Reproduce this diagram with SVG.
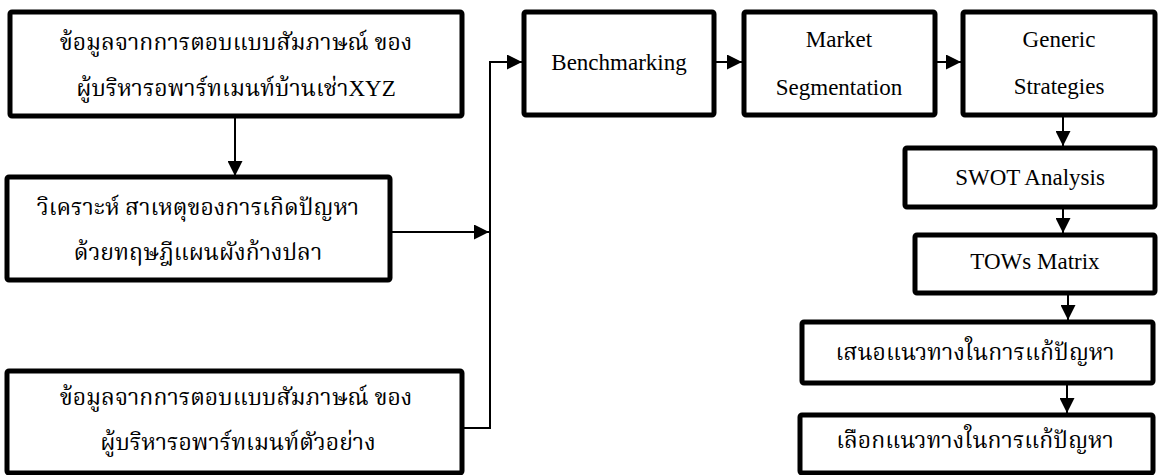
<svg xmlns="http://www.w3.org/2000/svg" width="1165" height="475" viewBox="0 0 1165 475">
  <style>
    .box { fill: #ffffff; stroke: #000000; stroke-width: 5; }
    .t { font-family: "Liberation Serif", "Noto Serif Thai", "Noto Sans Thai", serif; font-size: 23px; fill: #000000; text-anchor: middle; }
    .c { fill: none; stroke: #000000; stroke-width: 2; }
  </style>
  <defs>
    <marker id="ah" markerUnits="userSpaceOnUse" markerWidth="15" markerHeight="15" refX="15" refY="7.5" orient="auto">
      <path d="M0,0 L15,7.5 L0,15 Z" fill="#000000"/>
    </marker>
  </defs>
  <rect width="1165" height="475" fill="#ffffff"/>

  <g id="connectors">
    <path class="c" d="M235,116 L235,176" marker-end="url(#ah)"/>
    <path class="c" d="M390,232 L489,232" marker-end="url(#ah)"/>
    <path class="c" d="M462,428 L490,428 L490,62 L522,62" marker-end="url(#ah)"/>
    <path class="c" d="M714,62 L742,62" marker-end="url(#ah)"/>
    <path class="c" d="M935,62 L961,62" marker-end="url(#ah)"/>
    <path class="c" d="M1063,115 L1063,146" marker-end="url(#ah)"/>
    <path class="c" d="M1063,207 L1063,233" marker-end="url(#ah)"/>
    <path class="c" d="M1068,293 L1068,320" marker-end="url(#ah)"/>
    <path class="c" d="M1067,383 L1067,413" marker-end="url(#ah)"/>
  </g>

  <g id="node-interview-xyz">
    <rect class="box" x="10" y="12" width="452" height="104" rx="2"/>
    <text class="t" x="236" y="50">ข้อมูลจากการตอบแบบสัมภาษณ์ ของ</text>
    <text class="t" x="236" y="96">ผู้บริหารอพาร์ทเมนท์บ้านเช่าXYZ</text>
  </g>

  <g id="node-fishbone">
    <rect class="box" x="7" y="177" width="383" height="103" rx="2"/>
    <text class="t" x="198" y="215">วิเคราะห์ สาเหตุของการเกิดปัญหา</text>
    <text class="t" x="198" y="260">ด้วยทฤษฎีแผนผังก้างปลา</text>
  </g>

  <g id="node-interview-sample">
    <rect class="box" x="7" y="371" width="455" height="102" rx="2"/>
    <text class="t" x="236" y="405">ข้อมูลจากการตอบแบบสัมภาษณ์ ของ</text>
    <text class="t" x="238" y="450">ผู้บริหารอพาร์ทเมนท์ตัวอย่าง</text>
  </g>

  <g id="node-benchmarking">
    <rect class="box" x="524" y="12" width="190" height="103" rx="2"/>
    <text class="t" x="619" y="70">Benchmarking</text>
  </g>

  <g id="node-market-segmentation">
    <rect class="box" x="744" y="12" width="191" height="103" rx="2"/>
    <text class="t" x="839" y="47">Market</text>
    <text class="t" x="839" y="95">Segmentation</text>
  </g>

  <g id="node-generic-strategies">
    <rect class="box" x="963" y="12" width="192" height="103" rx="2"/>
    <text class="t" x="1059" y="47">Generic</text>
    <text class="t" x="1059" y="94">Strategies</text>
  </g>

  <g id="node-swot">
    <rect class="box" x="905" y="148" width="250" height="59" rx="2"/>
    <text class="t" x="1030" y="185">SWOT Analysis</text>
  </g>

  <g id="node-tows">
    <rect class="box" x="915" y="235" width="240" height="58" rx="2"/>
    <text class="t" x="1035" y="269">TOWs Matrix</text>
  </g>

  <g id="node-propose">
    <rect class="box" x="802" y="322" width="351" height="61" rx="2"/>
    <text class="t" x="975" y="360">เสนอแนวทางในการแก้ปัญหา</text>
  </g>

  <g id="node-select">
    <rect class="box" x="800" y="415" width="353" height="58" rx="2"/>
    <text class="t" x="975" y="448">เลือกแนวทางในการแก้ปัญหา</text>
  </g>
</svg>
